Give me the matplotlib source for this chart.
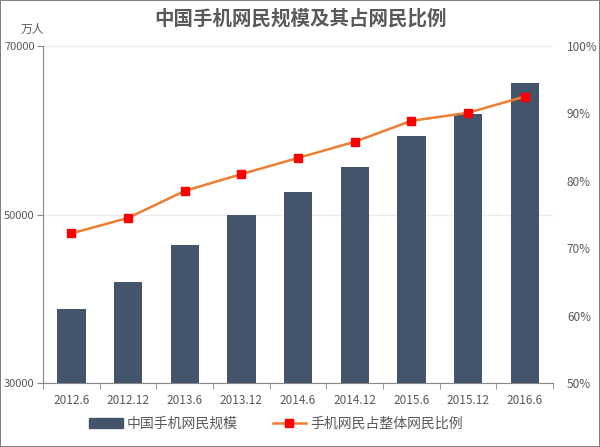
import numpy as np
import matplotlib.pyplot as plt
from matplotlib.lines import Line2D
from matplotlib.patches import Patch

plt.rcParams['font.family'] = ['Noto Sans CJK SC', 'DejaVu Sans']

# data
periods = ['2012.6', '2012.12', '2013.6', '2013.12', '2014.6',
           '2014.12', '2015.6', '2015.12', '2016.6']
users = [38825, 41997, 46374, 50006, 52705, 55678, 59357, 61981, 65637]
share = [72.2, 74.5, 78.5, 81.0, 83.4, 85.8, 88.9, 90.1, 92.5]

bar_color = '#44546A'
line_color = '#ED7D31'
text_color = '#595959'

fig = plt.figure(figsize=(6, 4.47), dpi=100, edgecolor='#7f7f7f', linewidth=1.2)
ax = fig.add_axes([0.0717, 0.143, 0.85, 0.754])
x = np.arange(len(periods))

ax.bar(x, users, width=0.5, color=bar_color, zorder=3)
ax.set_xlim(-0.5, len(periods) - 0.5)
ax.set_ylim(30000, 70000)
ax.set_yticks([30000, 50000, 70000])
ax.set_xticks(x)
ax.set_xticklabels(periods)
ax.set_xticks(np.arange(-0.5, len(periods)), minor=True)
ax.tick_params(axis='x', which='major', length=0, pad=8, labelsize=8.5, colors=text_color)
ax.tick_params(axis='x', which='minor', length=4, color='#888888', direction='out')
ax.tick_params(axis='y', length=4, pad=2, color='#888888', labelsize=8, colors=text_color)
ax.grid(axis='y', color='#ececec', linewidth=1, zorder=0)
for s in ['top', 'right']:
    ax.spines[s].set_visible(False)
ax.spines['left'].set_color('#888888')
ax.spines['bottom'].set_color('#888888')

ax2 = ax.twinx()
ax2.plot(x, share, color=line_color, linewidth=1.8, marker='s', markersize=6,
         markerfacecolor='#FF0000', markeredgecolor='#FF0000', zorder=4)
ax2.set_ylim(50, 100)
ax2.set_yticks(np.arange(50, 101, 10))
ax2.set_yticklabels([f'{v}%' for v in range(50, 101, 10)])
ax2.tick_params(axis='y', length=0, pad=10, labelsize=8.5, colors=text_color)
for s in ['top', 'right', 'left', 'bottom']:
    ax2.spines[s].set_visible(False)

fig.text(0.5, 0.958, '中国手机网民规模及其占网民比例', ha='center', va='center',
         fontsize=14, fontweight='bold', color='#595959')
fig.text(0.035, 0.935, '万人', ha='left', va='center', fontsize=8.5, color=text_color)

handles = [Patch(color=bar_color),
           Line2D([], [], color=line_color, linewidth=1.8, marker='s',
                  markersize=6, markerfacecolor='#FF0000', markeredgecolor='#FF0000')]
fig.legend(handles, ['中国手机网民规模', '手机网民占整体网民比例'],
           loc='center', bbox_to_anchor=(0.46, 0.052), ncol=2, frameon=False,
           fontsize=10, handlelength=2.4, columnspacing=2.5, handletextpad=0.3,
           labelcolor=text_color)

fig.savefig('out.png', dpi=100, edgecolor=fig.get_edgecolor())
